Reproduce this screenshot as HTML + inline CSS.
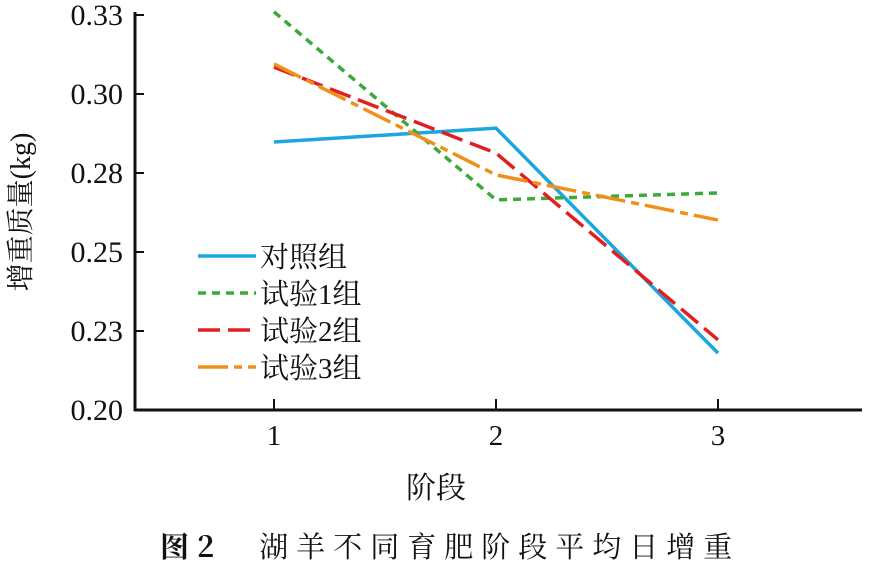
<!DOCTYPE html>
<html><head><meta charset="utf-8"><style>
body{margin:0;background:#fff}
svg text{font-family:"Liberation Serif","Noto Serif CJK SC",serif;fill:#111}
</style></head><body>
<svg width="870" height="567" id="c">
<g id="axes"></g>
<g id="series"></g>
<g id="legend"></g>
<text x="30" y="212" font-size="28" text-anchor="middle" transform="rotate(-90 30 212)">增重质量(kg)</text>
<text x="436" y="498" font-size="30" text-anchor="middle">阶段</text>
<text x="160" y="557" font-size="29" letter-spacing="8" style="font-family:'Noto Serif CJK SC',serif"><tspan font-weight="bold">图2</tspan>　湖羊不同育肥阶段平均日增重</text>
</svg>
<script>
const categories=[1,2,3];
const yTicks=[0.200,0.225,0.250,0.275,0.300,0.325];
const yTickLabels=["0.20","0.23","0.25","0.28","0.30","0.33"];
const seriesNames=["对照组","试验1组","试验2组","试验3组"];
const control=[0.2848,0.2892,0.218];
const trial1=[0.326,0.2665,0.2687];
const trial2=[0.3085,0.2813,0.2222];
const trial3=[0.3095,0.2744,0.2601];
const allSeries=[control,trial1,trial2,trial3];
const colors=["#1aa7e0","#3aaa3a","#e02020","#f0901a"];
const dashes=["","8,6","22,8","30,6,8,6"];
const NS="http://www.w3.org/2000/svg";
const x0=135,x1=862,yB=410,yT=15;
const xs=v=>274+(v-1)*222;
const ys=v=>yB-(v-0.2)/(0.325-0.2)*(yB-yT);
function mk(t,a,p){const e=document.createElementNS(NS,t);for(const k in a)e.setAttribute(k,a[k]);p.appendChild(e);return e;}
const ax=document.getElementById('axes');
let l=mk('line',{x1:x0,y1:yT-3,x2:x0,y2:yB+1,stroke:'#111','stroke-width':3},ax);


l=mk('line',{x1:x0-1,y1:yB,x2:x1,y2:yB,stroke:'#111','stroke-width':3},ax);


yTicks.forEach((v,i)=>{
 const t=mk('line',{x1:x0,y1:ys(v),x2:x0+9,y2:ys(v),stroke:'#111','stroke-width':2},ax);
 
 
 const tx=mk('text',{x:x0-12,y:ys(v)+10,'font-size':30,'text-anchor':'end'},ax);
 tx.textContent=yTickLabels[i];
 
 
});
categories.forEach(c=>{
 const t=mk('line',{x1:xs(c),y1:yB,x2:xs(c),y2:yB-11,stroke:'#111','stroke-width':2},ax);
 
 
 const tx=mk('text',{x:xs(c),y:yB+35,'font-size':29,'text-anchor':'middle'},ax);
 tx.textContent=c;
 
 
});
const sg=document.getElementById('series');
allSeries.forEach((s,i)=>{
 const pts=s.map((v,j)=>xs(categories[j])+','+ys(v)).join(' ');
 const p=mk('polyline',{points:pts,fill:'none',stroke:colors[i],'stroke-width':3.5,'stroke-dasharray':dashes[i]},sg);
 
 
});
const lg=document.getElementById('legend');
seriesNames.forEach((n,i)=>{
 const y=256+i*37;
 const ln=mk('line',{x1:198,y1:y,x2:256,y2:y,stroke:colors[i],'stroke-width':3.5,'stroke-dasharray':dashes[i]},lg);
 
 
 const t=mk('text',{x:260,y:y+11,'font-size':29},lg);
 t.textContent=n;
 
 
});
</script>
</body></html>
